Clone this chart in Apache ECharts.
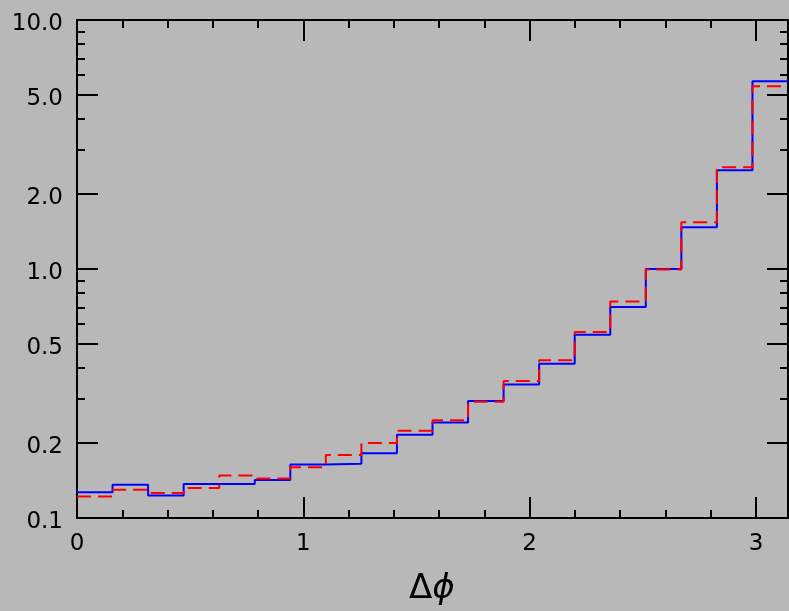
<!DOCTYPE html>
<html>
<head>
<meta charset="utf-8">
<script src="https://cdn.jsdelivr.net/npm/echarts@6/dist/echarts.min.js"></script>
<style>
  html, body { margin: 0; padding: 0; background: #b8b8b8; }
  #main { width: 789px; height: 611px; }
</style>
</head>
<body>
<div id="main"></div>
<script>
// histogram: 20 bins over [0, pi]
var nBins = 20;
var xMax = Math.PI;
var blueVals = [0.127, 0.136, 0.123, 0.137, 0.137, 0.142, 0.164, 0.165, 0.182, 0.216,
                0.242, 0.295, 0.344, 0.416, 0.544, 0.704, 1.00, 1.47, 2.49, 5.67];
var redVals  = [0.122, 0.130, 0.126, 0.132, 0.148, 0.144, 0.160, 0.179, 0.200, 0.224,
                0.247, 0.293, 0.355, 0.430, 0.559, 0.740, 0.995, 1.54, 2.56, 5.42];

// tick values / labels
var yMajor = [0.1, 0.2, 0.5, 1, 2, 5, 10];
var yLabels = ['0.1', '0.2', '0.5', '1.0', '2.0', '5.0', '10.0'];
var yMinor = [0.3, 0.4, 0.6, 0.7, 0.8, 0.9, 3, 4, 6, 7, 8, 9];
var xMajor = [0, 1, 2, 3];
var xMinor = [0.2, 0.4, 0.6, 0.8, 1.2, 1.4, 1.6, 1.8, 2.2, 2.4, 2.6, 2.8];

function steps(vals) {
    var pts = [];
    for (var i = 0; i < vals.length; i++) pts.push([i * xMax / nBins, vals[i]]);
    pts.push([xMax, vals[vals.length - 1]]);
    return pts;
}

var font = 'DejaVu Sans';
var lineStyle = {color: '#000', width: 2};

function xAx(pos, ticks, len, labels, line) {
    return {
        type: 'value', position: pos, min: 0, max: xMax,
        axisLine: {show: line, onZero: false, lineStyle: lineStyle},
        axisTick: {show: true, inside: true, length: len, customValues: ticks,
                   lineStyle: {color: '#000', width: 2}},
        axisLabel: {show: labels, customValues: xMajor, margin: 15,
                    color: '#000', fontFamily: font, fontSize: 23},
        splitLine: {show: false}
    };
}
function yAx(pos, ticks, len, labels, line) {
    return {
        type: 'log', logBase: 10, position: pos, min: 0.1, max: 10,
        axisLine: {show: line, onZero: false, lineStyle: lineStyle},
        axisTick: {show: true, inside: true, length: len, customValues: ticks,
                   lineStyle: {color: '#000', width: 2}},
        axisLabel: {show: labels, customValues: yMajor, margin: 14,
                    color: '#000', fontFamily: font, fontSize: 23,
                    rich: {v: {padding: [8, 0, 0, 0], fontFamily: font, fontSize: 23, color: '#000'}},
                    formatter: function (v) {
                        var i = yMajor.findIndex(function (m) { return Math.abs(m - v) < 1e-6 * m; });
                        return i >= 0 ? '{v|' + yLabels[i] + '}' : '';
                    }},
        splitLine: {show: false}
    };
}

var myChart = echarts.init(document.getElementById('main'));
var option = {
    backgroundColor: '#b8b8b8',
    animation: false,
    grid: {left: 77, right: 1, top: 20, bottom: 93},
    xAxis: [
        xAx('bottom', xMajor, 21, true, true),
        xAx('bottom', xMinor, 8, false, false),
        xAx('top', xMajor, 21, false, true),
        xAx('top', xMinor, 8, false, false)
    ],
    yAxis: [
        yAx('left', yMajor, 21, true, true),
        yAx('left', yMinor, 8, false, false),
        yAx('right', yMajor, 21, false, true),
        yAx('right', yMinor, 8, false, false)
    ],
    graphic: [{
        type: 'text', left: 409, top: 572,
        style: {
            text: '{a|Δ}{b|ϕ}',
            rich: {
                a: {fontFamily: font, fontSize: 34, fill: '#000'},
                b: {fontFamily: font, fontSize: 34, fontStyle: 'italic', fill: '#000'}
            }
        }
    }],
    series: [
        {
            name: 'blue', type: 'line', step: 'end', symbol: 'none',
            data: steps(blueVals),
            lineStyle: {color: '#0000ff', width: 2}
        },
        {
            name: 'red', type: 'line', step: 'end', symbol: 'none',
            data: steps(redVals),
            lineStyle: {color: '#ff0000', width: 2, type: [14, 7]}
        }
    ]
};
myChart.setOption(option);
</script>
</body>
</html>
